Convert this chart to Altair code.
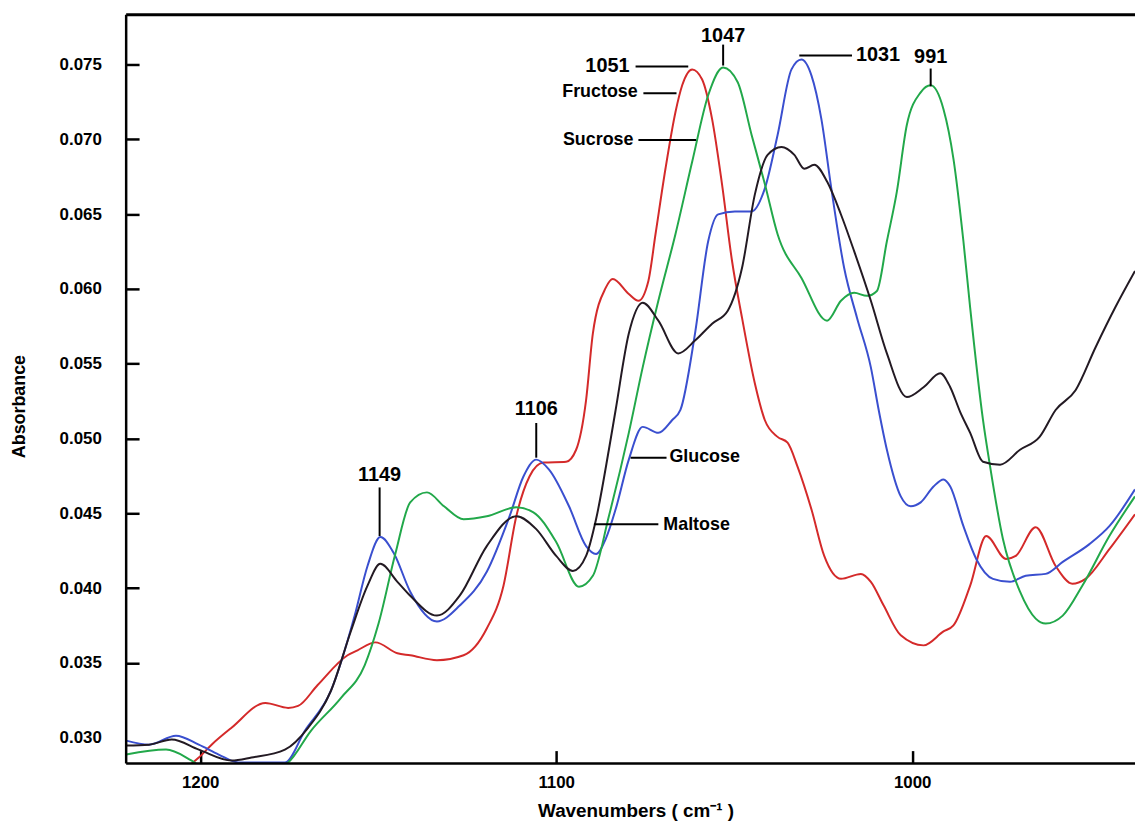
import altair as alt
import pandas as pd

# ---- spectra (wavenumber cm-1, absorbance) ----
fructose_w = [1202.4, 1200.4, 1196.8, 1191.2, 1181.7, 1175.3, 1172.5, 1167.0, 1158.6, 1155.8,
              1150.8, 1144.6, 1141.0, 1133.5, 1126.0, 1119.5, 1114.8, 1111.2, 1107.5, 1103.6,
              1097.2, 1094.4, 1091.6, 1089.7, 1086.1, 1084.1, 1079.6, 1076.9, 1074.1, 1072.1,
              1069.3, 1066.5, 1064.6, 1061.8, 1059.0, 1056.2, 1053.4, 1050.6, 1047.8, 1044.2,
              1041.4, 1037.8, 1035.0, 1032.2, 1028.3, 1024.7, 1020.0, 1014.4, 1011.6, 1008.0,
              1003.2, 996.8, 991.2, 988.4, 983.7, 979.2, 973.6, 970.9, 965.3, 959.7,
              955.0, 951.3, 944.6, 937.4]
fructose_a = [0.02827, 0.02867, 0.02953, 0.03066, 0.03232, 0.03199, 0.03212, 0.03352, 0.03551, 0.03584,
              0.03637, 0.03564, 0.03551, 0.03518, 0.03551, 0.03730, 0.04016, 0.04480, 0.04746, 0.04839,
              0.04845, 0.04925, 0.05257, 0.05702, 0.06007, 0.06067, 0.05967, 0.05921, 0.06054, 0.06366,
              0.06804, 0.07182, 0.07362, 0.07468, 0.07401, 0.07136, 0.06698, 0.06187, 0.05808, 0.05370,
              0.05124, 0.05011, 0.04972, 0.04812, 0.04527, 0.04215, 0.04062, 0.04095, 0.04042, 0.03883,
              0.03684, 0.03617, 0.03710, 0.03750, 0.04016, 0.04348, 0.04195, 0.04215, 0.04407, 0.04148,
              0.04029, 0.04062, 0.04261, 0.04494]

glucose_w = [1220.8, 1214.4, 1206.8, 1200.4, 1194.8, 1189.3, 1176.2, 1170.6, 1163.3, 1156.6,
             1153.0, 1149.4, 1145.5, 1141.0, 1133.5, 1127.1, 1119.5, 1113.1, 1109.2, 1105.6,
             1102.0, 1096.4, 1091.6, 1088.8, 1086.1, 1083.3, 1079.6, 1075.7, 1071.3, 1067.4,
             1065.1, 1061.0, 1057.3, 1054.5, 1049.8, 1045.1, 1041.4, 1037.8, 1033.9, 1031.1,
             1028.3, 1025.5, 1022.7, 1019.1, 1015.5, 1011.6, 1009.4, 1007.1, 1003.2, 1000.4,
             997.6, 994.0, 991.2, 989.3, 985.6, 982.0, 977.3, 972.5, 968.1, 962.5,
             957.7, 950.2, 944.6, 937.4]
glucose_a = [0.02980, 0.02953, 0.03013, 0.02953, 0.02887, 0.02834, 0.02834, 0.03046, 0.03312, 0.03816,
             0.04148, 0.04341, 0.04228, 0.03976, 0.03777, 0.03883, 0.04109, 0.04480, 0.04746, 0.04859,
             0.04792, 0.04547, 0.04281, 0.04228, 0.04328, 0.04527, 0.04859, 0.05078, 0.05038, 0.05124,
             0.05191, 0.05702, 0.06319, 0.06499, 0.06518, 0.06518, 0.06671, 0.07030, 0.07468, 0.07534,
             0.07428, 0.07136, 0.06671, 0.06140, 0.05808, 0.05476, 0.05191, 0.04925, 0.04613, 0.04547,
             0.04573, 0.04679, 0.04726, 0.04679, 0.04414, 0.04195, 0.04062, 0.04042, 0.04082, 0.04095,
             0.04175, 0.04294, 0.04414, 0.04660]

sucrose_w = [1220.8, 1209.6, 1202.4, 1199.0, 1178.1, 1175.3, 1168.9, 1160.5, 1153.8, 1149.9,
             1145.2, 1141.0, 1136.3, 1131.5, 1126.0, 1119.5, 1111.2, 1106.4, 1100.0, 1093.6,
             1089.7, 1085.2, 1079.6, 1075.7, 1071.3, 1066.5, 1061.8, 1057.3, 1053.1, 1049.0,
             1045.1, 1041.4, 1037.8, 1031.1, 1023.9, 1020.0, 1016.3, 1012.7, 1009.9, 1007.1,
             1004.3, 1001.5, 997.6, 994.8, 991.2, 988.4, 985.6, 983.7, 980.1, 978.1,
             974.5, 969.7, 965.3, 962.5, 957.7, 952.2, 944.6, 937.4]
sucrose_a = [0.02887, 0.02920, 0.02847, 0.02800, 0.02800, 0.02834, 0.03046, 0.03265, 0.03484, 0.03763,
             0.04228, 0.04573, 0.04640, 0.04547, 0.04460, 0.04480, 0.04540, 0.04507, 0.04308, 0.04009,
             0.04082, 0.04480, 0.05038, 0.05476, 0.05921, 0.06366, 0.06850, 0.07295, 0.07481, 0.07382,
             0.07030, 0.06704, 0.06366, 0.06074, 0.05788, 0.05921, 0.05974, 0.05954, 0.05987, 0.06319,
             0.06651, 0.07096, 0.07315, 0.07362, 0.07202, 0.06870, 0.06319, 0.05874, 0.05124, 0.04812,
             0.04328, 0.03976, 0.03796, 0.03763, 0.03816, 0.04016, 0.04348, 0.04613]

maltose_w = [1220.8, 1214.4, 1208.0, 1200.4, 1191.2, 1185.6, 1176.2, 1169.7, 1163.3, 1157.7,
             1153.0, 1149.4, 1144.6, 1141.0, 1133.5, 1127.1, 1119.5, 1111.2, 1105.6, 1100.0,
             1095.3, 1091.6, 1088.8, 1085.2, 1083.3, 1079.6, 1075.7, 1071.3, 1065.7, 1061.0,
             1056.2, 1051.8, 1047.8, 1044.2, 1040.6, 1036.7, 1033.1, 1030.3, 1027.5, 1023.9,
             1020.0, 1016.3, 1011.6, 1007.1, 1001.5, 996.8, 992.1, 989.3, 986.5, 983.7,
             980.1, 975.3, 969.7, 964.2, 959.7, 954.1, 948.5, 943.0, 937.4]
maltose_a = [0.02947, 0.02953, 0.02987, 0.02920, 0.02847, 0.02867, 0.02920, 0.03066, 0.03312, 0.03710,
             0.04016, 0.04162, 0.04042, 0.03949, 0.03816, 0.03949, 0.04281, 0.04480, 0.04394, 0.04215,
             0.04115, 0.04215, 0.04460, 0.04925, 0.05191, 0.05702, 0.05908, 0.05788, 0.05569, 0.05655,
             0.05768, 0.05855, 0.06140, 0.06631, 0.06897, 0.06950, 0.06897, 0.06804, 0.06830, 0.06718,
             0.06498, 0.06253, 0.05921, 0.05569, 0.05277, 0.05343, 0.05436, 0.05343, 0.05177, 0.05038,
             0.04845, 0.04825, 0.04925, 0.05011, 0.05191, 0.05323, 0.05609, 0.05874, 0.06120]

sugars = ["Fructose", "Glucose", "Sucrose", "Maltose"]
sugar_colors = ["#d42a2a", "#3a4fcf", "#22a84a", "#231a23"]

# axis ticks
y_ticks = [0.030, 0.035, 0.040, 0.045, 0.050, 0.055, 0.060, 0.065, 0.070, 0.075]
x_ticks = [1200, 1100, 1000]

# annotations (label, wavenumber, absorbance)
num_c_label = ["1149", "1106", "1047", "991"]
num_c_w = [1149.6, 1105.6, 1053.1, 994.8]
num_c_a = [0.04759, 0.05197, 0.07694, 0.07554]
num_r_label = ["1051"]
num_r_w = [1079.4]
num_r_a = [0.07488]
num_l_label = ["1031"]
num_l_w = [1015.8]
num_l_a = [0.07561]
name_r_label = ["Fructose", "Sucrose"]
name_r_w = [1077.1, 1078.3]
name_r_a = [0.07315, 0.06996]
name_l_label = ["Glucose", "Maltose"]
name_l_w = [1068.2, 1069.9]
name_l_a = [0.04879, 0.04421]

# leader lines (w1, w2, a1, a2)
lead_w1 = [1149.6, 1105.6, 1077.7, 1075.5, 1076.9, 1053.1, 1031.7, 994.8, 1079.1, 1089.4]
lead_w2 = [1149.6, 1105.6, 1062.9, 1066.2, 1060.7, 1053.1, 1016.9, 994.8, 1069.0, 1071.3]
lead_a1 = [0.04673, 0.05104, 0.07488, 0.07308, 0.06996, 0.07634, 0.07561, 0.07474, 0.04872, 0.04427]
lead_a2 = [0.04348, 0.04872, 0.07488, 0.07308, 0.06996, 0.07494, 0.07561, 0.07355, 0.04872, 0.04427]

FONT = "Liberation Sans"
W, H = 1016, 754

rows = []
for name, ws, As in [("Fructose", fructose_w, fructose_a), ("Glucose", glucose_w, glucose_a),
                     ("Sucrose", sucrose_w, sucrose_a), ("Maltose", maltose_w, maltose_a)]:
    for w, a in zip(ws, As):
        rows.append({"w": w, "a": a, "sugar": name})
spec = pd.DataFrame(rows)

xscale = alt.Scale(domain=[937.4, 1220.8], reverse=True, nice=False, zero=False)
yscale = alt.Scale(domain=[0.02827, 0.07833], nice=False, zero=False)

xaxis = alt.Axis(values=x_ticks, format="d", title="Wavenumbers ( cm⁻¹ )", grid=False, domain=False,
                 offset=-13, tickSize=13, tickWidth=2.5, tickColor="black",
                 labelFont=FONT, labelFontSize=17, labelFontWeight="bold", labelColor="black",
                 labelPadding=11, titleFont=FONT, titleFontSize=19, titleFontWeight="bold",
                 titleColor="black", titleX=513, titleY=60, titleBaseline="middle")
yaxis = alt.Axis(values=y_ticks, format=".3f", title="Absorbance", grid=False, domain=False,
                 offset=-13, tickSize=13, tickWidth=2.5, tickColor="black",
                 tickOpacity={"condition": {"test": "datum.value < 0.031", "value": 0}, "value": 1},
                 labelFont=FONT, labelFontSize=17, labelFontWeight="bold", labelColor="black",
                 labelPadding=25, titleFont=FONT, titleFontSize=18, titleFontWeight="bold",
                 titleColor="black", titleX=-120, titleY=394, titleBaseline="middle", titleAngle=270)

lines = alt.Chart(spec).mark_line(strokeWidth=2, interpolate="monotone", clip=True).encode(
    x=alt.X("w:Q", scale=xscale, axis=xaxis),
    y=alt.Y("a:Q", scale=yscale, axis=yaxis),
    color=alt.Color("sugar:N", scale=alt.Scale(domain=sugars, range=sugar_colors), legend=None),
    detail="sugar:N",
)

lead = pd.DataFrame({"w1": lead_w1, "w2": lead_w2, "a1": lead_a1, "a2": lead_a2})
leaders = alt.Chart(lead).mark_rule(color="black", strokeWidth=2).encode(
    x=alt.X("w1:Q", scale=xscale), x2="w2:Q",
    y=alt.Y("a1:Q", scale=yscale), y2="a2:Q",
)


def text_layer(labels, ws, As, align, size):
    df = pd.DataFrame({"label": labels, "w": ws, "a": As})
    return alt.Chart(df).mark_text(align=align, baseline="middle", font=FONT, fontSize=size,
                                   fontWeight="bold", color="black").encode(
        x=alt.X("w:Q", scale=xscale), y=alt.Y("a:Q", scale=yscale), text="label:N")


texts = [
    text_layer(num_c_label, num_c_w, num_c_a, "center", 20),
    text_layer(num_r_label, num_r_w, num_r_a, "right", 20),
    text_layer(num_l_label, num_l_w, num_l_a, "left", 20),
    text_layer(name_r_label, name_r_w, name_r_a, "right", 18),
    text_layer(name_l_label, name_l_w, name_l_a, "left", 18),
]

one = pd.DataFrame({"k": [0]})
frame_top = alt.Chart(one).mark_rule(color="black", strokeWidth=3).encode(
    x=alt.value(0), x2=alt.value(W), y=alt.value(0))
frame_left = alt.Chart(one).mark_rule(color="black", strokeWidth=2.5).encode(
    x=alt.value(0), y=alt.value(0), y2=alt.value(H))
frame_bottom = alt.Chart(one).mark_rule(color="black", strokeWidth=2.5).encode(
    x=alt.value(0), x2=alt.value(W), y=alt.value(H))

chart = alt.layer(lines, leaders, *texts, frame_top, frame_left, frame_bottom).properties(
    width=W, height=H,
    autosize=alt.AutoSizeParams(type="none"),
    padding={"left": 119, "top": 4, "right": 0, "bottom": 55},
    background="white",
).configure_view(stroke=None)

chart.save("out.html", embed_options={"renderer": "svg", "actions": False})
